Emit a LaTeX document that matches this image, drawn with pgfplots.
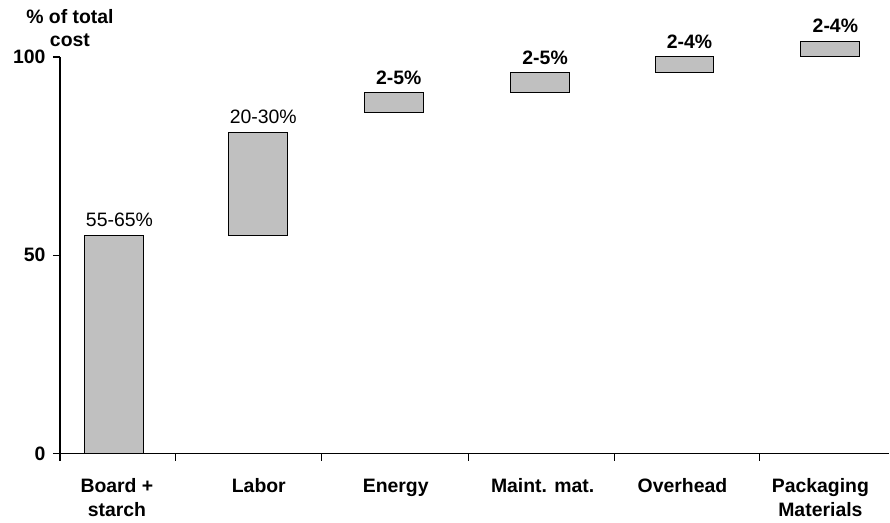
\documentclass[border=0pt]{standalone}
\usepackage{fontspec}
\setmainfont{Liberation Sans}
\usepackage{pgfplots}
\pgfplotsset{compat=1.18}

\definecolor{barfill}{RGB}{192,192,192}

\begin{document}
\begin{tikzpicture}
\begin{axis}[
  scale only axis,
  width=830bp, height=397bp,
  xmin=0, xmax=830, ymin=0, ymax=100,
  clip=false,
  axis lines=left,
  axis line style={-, black, line width=1.3pt},
  ytick={0,50,100},
  yticklabels={\textbf{0},\textbf{50},\textbf{100}},
  yticklabel style={font=\fontsize{19.5}{23}\selectfont, xshift=-4bp},
  xtick={0,116,262,409,555,700},
  xticklabels={},
  tick align=outside,
  major tick length=7bp,
  tick style={black, line width=1.2pt},
  extra x ticks={57,199,336,483,623,761},
  extra x tick labels={\strut Board +\\starch, \strut Labor, \strut Energy,
    \strut Maint. mat., \strut Overhead, \strut Packaging\\Materials},
  extra x tick style={
    major tick length=0pt,
    tick label style={align=center, anchor=north, yshift=-19bp,
      font=\fontsize{19.5}{24}\selectfont\bfseries}},
  ylabel={\% of total\\cost},
  ylabel style={rotate=-90, align=center, at={(rel axis cs:0,1)},
    anchor=south, xshift=10bp, yshift=7bp,
    font=\fontsize{19.5}{22.5}\selectfont\bfseries},
  floatbar/.style={fill=barfill, draw=black, line width=1pt, line join=miter},
]
% floating bars: each spans [start, end] of the cumulative cost share
\addplot[floatbar] coordinates {(25,0)   (84,0)   (84,55)   (25,55)}   -- cycle;
\addplot[floatbar] coordinates {(169,55) (228,55) (228,81)  (169,81)}  -- cycle;
\addplot[floatbar] coordinates {(304.5,86) (363.5,86) (363.5,91) (304.5,91)} -- cycle;
\addplot[floatbar] coordinates {(451,91) (510,91) (510,96) (451,96)} -- cycle;
\addplot[floatbar] coordinates {(595.5,96) (654.5,96) (654.5,100) (595.5,100)} -- cycle;
\addplot[floatbar] coordinates {(741.5,100) (800.5,100) (800.5,104) (741.5,104)} -- cycle;
% share ranges placed on top of each bar
\addplot[draw=none, mark=none,
  nodes near coords, point meta=explicit symbolic,
  every node near coord/.append style={anchor=base, yshift=8.5bp, xshift=5bp,
    font=\fontsize{19.5}{22}\selectfont, text=black}] coordinates {
  (54.5,55) [55-65\%]
  (198.5,81) [20-30\%]
  (334,91) [\textbf{2-5\%}]
  (480.5,96) [\textbf{2-5\%}]
  (625,100) [\textbf{2-4\%}]
  (771,104) [\textbf{2-4\%}]
};
\end{axis}
\path[use as bounding box] (-60bp,-69bp) rectangle (830bp,454bp);
\end{tikzpicture}
\end{document}
